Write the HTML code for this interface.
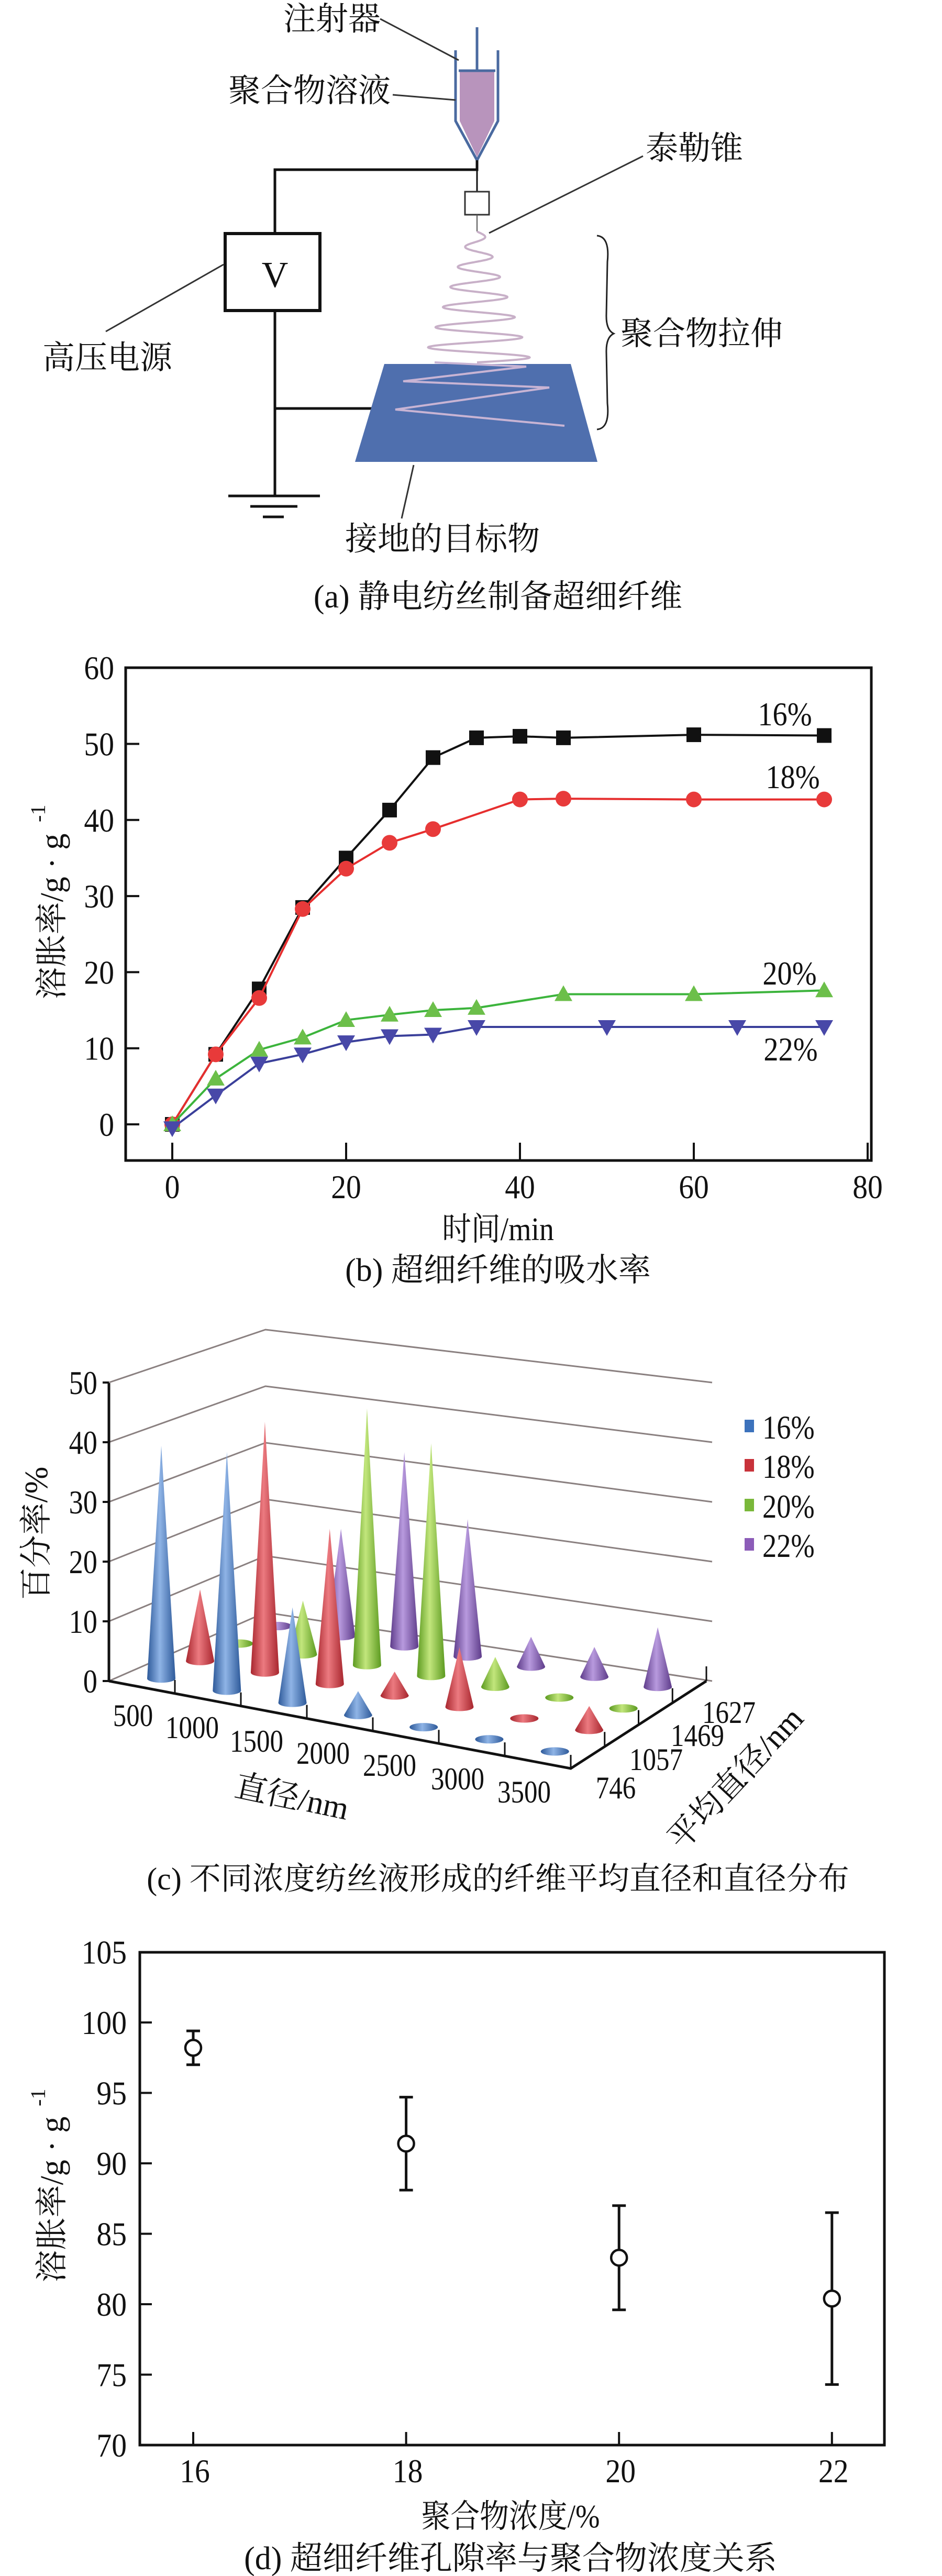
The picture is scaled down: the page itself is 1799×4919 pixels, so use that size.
<!DOCTYPE html>
<html><head><meta charset="utf-8">
<style>
html,body{margin:0;padding:0;background:#fff;}
svg{display:block;}
text{font-family:"Liberation Serif","Noto Serif CJK SC","Noto Sans CJK SC",serif;fill:#111;}
</style></head>
<body>
<svg id="fig" xmlns="http://www.w3.org/2000/svg" width="1799" height="4919" viewBox="0 0 1799 4919">
<rect x="0" y="0" width="1799" height="4919" fill="#fff"/>

<!-- Panel (a) diagram -->
<g id="panelA">
  <line x1="911" y1="52" x2="911" y2="135" stroke="#4a6aa0" stroke-width="5"/>
  <path d="M878,135 L944,135 L944,231 L911,300 L878,231 Z" fill="#b894bc"/>
  <path d="M870,96 L870,231 L911,306 L951,231 L951,96" fill="none" stroke="#4a6aa0" stroke-width="5"/>
  <line x1="876" y1="135" x2="946" y2="135" stroke="#4a6aa0" stroke-width="5"/>
  <polyline points="911,306 911,324 525,324 525,446" fill="none" stroke="#111" stroke-width="5"/>
  <line x1="911" y1="324" x2="911" y2="366" stroke="#111" stroke-width="3"/>
  <rect x="888" y="366" width="46" height="44" fill="#fff" stroke="#333" stroke-width="3"/>
  <line x1="911" y1="410" x2="911" y2="442" stroke="#555" stroke-width="2"/>
  <rect x="430" y="446" width="181" height="147" fill="#fff" stroke="#111" stroke-width="6"/>
  <text x="525" y="548" font-size="70" text-anchor="middle">V</text>
  <polyline points="525,593 525,947" fill="none" stroke="#111" stroke-width="5"/>
  <line x1="525" y1="780" x2="712" y2="780" stroke="#111" stroke-width="5"/>
  <line x1="436" y1="947" x2="611" y2="947" stroke="#111" stroke-width="5"/>
  <line x1="478" y1="967" x2="568" y2="967" stroke="#111" stroke-width="5"/>
  <line x1="502" y1="987" x2="542" y2="987" stroke="#111" stroke-width="5"/>
  <polygon points="734,695 1090,695 1141,882 678,882" fill="#4f6fae"/>
  <path id="spiral" d="" fill="none" stroke="#c8b0c8" stroke-width="4"/>
  <polyline points="830,692 1005,700 770,728 1049,740 755,782 1078,813" fill="none" stroke="#c8b4d4" stroke-width="4"/>
  <path d="M1140,450 Q1165,452 1160,500 L1158,600 Q1157,630 1172,637 Q1157,644 1158,674 L1160,770 Q1165,818 1140,820" fill="none" stroke="#222" stroke-width="3"/>
  <line x1="726" y1="36" x2="876" y2="115" stroke="#333" stroke-width="3"/>
  <line x1="750" y1="181" x2="870" y2="191" stroke="#333" stroke-width="3"/>
  <line x1="934" y1="445" x2="1228" y2="298" stroke="#333" stroke-width="3"/>
  <line x1="202" y1="633" x2="427" y2="505" stroke="#333" stroke-width="3"/>
  <line x1="790" y1="888" x2="767" y2="990" stroke="#333" stroke-width="3"/>
  <text x="634" y="57" font-size="62" text-anchor="middle">注射器</text>
  <text x="591" y="194" font-size="62" text-anchor="middle">聚合物溶液</text>
  <text x="1326" y="304" font-size="62" text-anchor="middle">泰勒锥</text>
  <text x="205" y="704" font-size="62" text-anchor="middle">高压电源</text>
  <text x="1340" y="658" font-size="62" text-anchor="middle">聚合物拉伸</text>
  <text x="845" y="1050" font-size="62" text-anchor="middle">接地的目标物</text>
  <text x="951" y="1160" font-size="62" text-anchor="middle">(a) 静电纺丝制备超细纤维</text>
</g>

<g id="panelB"></g>
<g id="panelC"></g>
<g id="panelD"></g>
</svg>

<script>
// ---------- Chart (b) data ----------
const bTimes16 = [0,5,10,15,20,25,30,35,40,45,60,75];
const bVals16  = [0,9.2,17.8,28.5,35,41.3,48.2,50.8,51,50.8,51.2,51.1];
const bTimes18 = [0,5,10,15,20,25,30,40,45,60,75];
const bVals18  = [0,9.2,16.6,28.3,33.6,37,38.8,42.7,42.8,42.7,42.7];
const bTimes20 = [0,5,10,15,20,25,30,35,45,60,75];
const bVals20  = [0,6,9.8,11.4,13.7,14.4,15,15.3,17.1,17.1,17.6];
const bTimes22 = [0,5,10,15,20,25,30,35,50,65,75];
const bVals22  = [-0.5,3.8,8,9.2,10.8,11.6,11.8,12.8,12.8,12.8,12.8];
const bXTicks = [0,20,40,60,80];
const bYTicks = [0,10,20,30,40,50,60];
const bSeriesLabels = ["16%","18%","20%","22%"];

// ---------- Chart (c) data ----------
const cDiameters = ["500","1000","1500","2000","2500","3000","3500"];
const cMeanDiam = ["746","1057","1469","1627"];
const cSeries = ["16%","18%","20%","22%"];
const cVals16 = [39,40,16,4,0.5,0.5,0.5];
const cVals18 = [12,42,26,4,10,0.5,4];
const cVals20 = [0.5,9,43,39,5,0.5,0.5];
const cVals22 = [0.5,18,32.5,23,5,5,10];
const cYTicks = [0,10,20,30,40,50];

// ---------- Chart (d) data ----------
const dConc = [16,18,20,22];
const dMean = [98.2,91.4,83.3,80.4];
const dLow  = [97.0,88.1,79.6,74.3];
const dHigh = [99.4,94.7,87.0,86.5];
const dXTicks = [16,18,20,22];
const dYTicks = [70,75,80,85,90,95,100,105];

const NS = "http://www.w3.org/2000/svg";
function mk(parent, tag, attrs){
  const e = document.createElementNS(NS, tag);
  for (const k in attrs) e.setAttribute(k, attrs[k]);
  parent.appendChild(e);
  return e;
}
function txt(parent, x, y, s, size, anchor, sx){
  const e = mk(parent, "text", {"font-size":size, "text-anchor":anchor||"middle",
    transform:"translate("+x+","+y+") scale("+(sx||1)+",1)"});
  e.textContent = s;
  return e;
}

// spiral decoration
(function(){
  let d = "";
  for (let k=0;k<=400;k++){
    const t=k/400, y=442+250*t, A=12+92*t;
    const x=911+A*Math.sin(2*Math.PI*6.5*t);
    d += (k?"L":"M")+x.toFixed(1)+","+y.toFixed(1);
  }
  document.getElementById("spiral").setAttribute("d", d);
})();

// ================= Chart (b) =================
(function(){
  const g = document.getElementById("panelB");
  const X0=329, XS=16.6, Y0=2147, YS=14.53;
  const xb = t => X0 + t*XS;
  const yb = v => Y0 - v*YS;
  let el;
  el = mk(g,"rect",{x:240,y:1275,width:1424,height:941,fill:"none",stroke:"#111","stroke-width":5});
  
  
  bYTicks.forEach(v=>{
    el = mk(g,"line",{x1:240,x2:266,y1:yb(v),y2:yb(v),stroke:"#111","stroke-width":4});
    
    
    el = txt(g, 218, yb(v)+22, String(v), 64, "end", 0.9);
    
    
  });
  bXTicks.forEach(t=>{
    el = mk(g,"line",{x1:xb(t),x2:xb(t),y1:2216,y2:2182,stroke:"#111","stroke-width":4});
    
    
    el = txt(g, xb(t), 2288, String(t), 64, "middle", 0.9);
    
    
  });
  el = txt(g, 951, 2368, "时间/min", 62, "middle", 0.9);
  
  
  el = mk(g,"text",{"font-size":62,"text-anchor":"middle",transform:"translate(120,1750) rotate(-90)"});
  el.textContent = "溶胀率/g · g";
  
  
  el = mk(g,"text",{"font-size":40,transform:"translate(86,1570) rotate(-90)"});
  el.textContent = "-1";
  
  
  el = txt(g, 951, 2446, "(b) 超细纤维的吸水率", 62, "middle", 1);
  
  

  const series = [
    {t:bTimes16, v:bVals16, line:"#111", fill:"#111", m:"square"},
    {t:bTimes18, v:bVals18, line:"#e62e2e", fill:"#e83a3a", m:"circle"},
    {t:bTimes20, v:bVals20, line:"#3cb43c", fill:"#6cbf4a", m:"tri-up"},
    {t:bTimes22, v:bVals22, line:"#3a3f9a", fill:"#4848a8", m:"tri-down"}
  ];
  series.forEach((s,si)=>{
    const pts = s.t.map((t,i)=>xb(t).toFixed(1)+","+yb(s.v[i]).toFixed(1)).join(" ");
    el = mk(g,"polyline",{points:pts,fill:"none",stroke:s.line,"stroke-width":4});
    
    
    s.t.forEach((t,i)=>{
      const x=xb(t), y=yb(s.v[i]);
      if (s.m==="square") el = mk(g,"rect",{x:x-14,y:y-14,width:28,height:28,fill:s.fill});
      else if (s.m==="circle") el = mk(g,"circle",{cx:x,cy:y,r:15,fill:s.fill});
      else if (s.m==="tri-up") el = mk(g,"polygon",{points:`${x-17},${y+13} ${x+17},${y+13} ${x},${y-17}`,fill:s.fill});
      else el = mk(g,"polygon",{points:`${x-17},${y-13} ${x+17},${y-13} ${x},${y+17}`,fill:s.fill});
      
      
    });
  });
  const lab = [[1499,1385],[1514,1505],[1508,1880],[1510,2025]];
  bSeriesLabels.forEach((s,i)=>{
    el = txt(g, lab[i][0], lab[i][1], s, 64, "middle", 0.88);
    
    
  });
})();

// ================= Chart (c) =================
(function(){
  const g = document.getElementById("panelC");
  const A=[208,3210], B=[1090,3377], C=[1349,3210], D=[507,3079];
  const HS = 11.4;
  function P(u,v){
    const f=[A[0]+u*(B[0]-A[0]), A[1]+u*(B[1]-A[1])];
    const b=[D[0]+u*(C[0]-D[0]), D[1]+u*(C[1]-D[1])];
    return [f[0]+v*(b[0]-f[0]), f[1]+v*(b[1]-f[1])];
  }
  let el;
  const defs = mk(g,"defs",{});
  const cols = [["#2e5a9a","#8fb4e6"],["#a8262e","#ec7a80"],["#5c9a20","#c2e67c"],["#5e3c8a","#b89ade"]];
  cols.forEach((c,i)=>{
    const lg = mk(defs,"linearGradient",{id:"cg"+i,x1:"0",x2:"1",y1:"0",y2:"0"});
    mk(lg,"stop",{offset:"0","stop-color":c[0]});
    mk(lg,"stop",{offset:"0.45","stop-color":c[1]});
    mk(lg,"stop",{offset:"1","stop-color":c[0]});
  });
  cYTicks.forEach(v=>{
    const pts = `208,${3210-v*HS} 507,${3079-v*10.8} 1360,${3210-v*HS}`;
    el = mk(g,"polyline",{points:pts,fill:"none",stroke:"#8a8080","stroke-width":3});
    
    
  });
  el = mk(g,"line",{x1:208,y1:3210,x2:208,y2:2641,stroke:"#111","stroke-width":5});
  
  
  cYTicks.forEach(v=>{
    el = mk(g,"line",{x1:196,x2:208,y1:3210-v*HS,y2:3210-v*HS,stroke:"#111","stroke-width":4});
    
    
    el = txt(g, 186, 3210-v*HS+22, String(v), 64, "end", 0.85);
    
    
  });
  const all = [cVals16,cVals18,cVals20,cVals22];
  for (let j=3;j>=0;j--){
    for (let i=0;i<cDiameters.length;i++){
      const val = all[j][i];
      const p = P((i+0.5)/7,(j+0.5)/4);
      const rx=27, ry=8;
      if (val < 1){
        el = mk(g,"ellipse",{cx:p[0],cy:p[1],rx:rx,ry:ry,fill:"url(#cg"+j+")"});
      } else {
        const tip = p[1]-val*HS;
        el = mk(g,"path",{d:`M${p[0]-rx},${p[1]} L${p[0]},${tip} L${p[0]+rx},${p[1]} A${rx},${ry} 0 0 1 ${p[0]-rx},${p[1]} Z`,fill:"url(#cg"+j+")"});
      }
      
      
    }
  }
  el = mk(g,"polyline",{points:`${A[0]},${A[1]} ${B[0]},${B[1]} ${C[0]},${C[1]}`,fill:"none",stroke:"#111","stroke-width":5});
  
  
  for (let k=1;k<=7;k++){
    const p = P(k/7,0);
    el = mk(g,"line",{x1:p[0],y1:p[1],x2:p[0],y2:p[1]-26,stroke:"#111","stroke-width":3});
    
    
  }
  for (let k=1;k<=4;k++){
    const p = P(1,k/4);
    el = mk(g,"line",{x1:p[0],y1:p[1],x2:p[0],y2:p[1]-28,stroke:"#111","stroke-width":3});
    
    
  }
  const fl = [[254,3296],[367,3319],[490,3345],[617,3368],[744,3391],[874,3417],[1001,3442]];
  cDiameters.forEach((s,i)=>{
    el = txt(g, fl[i][0], fl[i][1], s, 60, "middle", 0.85);
    
    
  });
  const dl = [[1176,3434],[1253,3380],[1332,3334],[1392,3290]];
  cMeanDiam.forEach((s,i)=>{
    el = txt(g, dl[i][0], dl[i][1], s, 60, "middle", 0.85);
    
    
  });
  el = mk(g,"text",{"font-size":62,"text-anchor":"middle",transform:"translate(553,3452) rotate(12)"});
  el.textContent = "直径/nm";
  
  
  el = mk(g,"text",{"font-size":62,"text-anchor":"middle",transform:"translate(1420,3410) rotate(-47)"});
  el.textContent = "平均直径/nm";
  
  
  el = mk(g,"text",{"font-size":62,"text-anchor":"middle",transform:"translate(90,2928) rotate(-90)"});
  el.textContent = "百分率/%";
  
  
  const lc = ["#3c72bc","#c8323a","#7ab83a","#8c5cb8"];
  const ly = [2725,2800,2876,2951];
  cSeries.forEach((s,i)=>{
    el = mk(g,"rect",{x:1422,y:ly[i]-14,width:18,height:24,fill:lc[i]});
    
    
    el = txt(g, 1456, ly[i]+22, s, 64, "start", 0.85);
    
    
  });
  el = txt(g, 951, 3608, "(c) 不同浓度纺丝液形成的纤维平均直径和直径分布", 60, "middle", 1);
  
  
})();

// ================= Chart (d) =================
(function(){
  const g = document.getElementById("panelD");
  const xd = c => 369 + (c-16)*203.3;
  const yd = v => 4669 - (v-70)*26.9;
  let el;
  el = mk(g,"rect",{x:267,y:3728,width:1422,height:941,fill:"none",stroke:"#111","stroke-width":5});
  
  
  dYTicks.forEach(v=>{
    el = mk(g,"line",{x1:267,x2:290,y1:yd(v),y2:yd(v),stroke:"#111","stroke-width":4});
    
    
    el = txt(g, 242, yd(v)+22, String(v), 64, "end", 0.9);
    
    
  });
  dXTicks.forEach(c=>{
    el = mk(g,"line",{x1:xd(c),x2:xd(c),y1:4669,y2:4644,stroke:"#111","stroke-width":4});
    
    
    el = txt(g, xd(c)+3, 4740, String(c), 64, "middle", 0.9);
    
    
  });
  dConc.forEach((c,i)=>{
    const x = xd(c);
    el = mk(g,"line",{x1:x,x2:x,y1:yd(dLow[i]),y2:yd(dHigh[i]),stroke:"#111","stroke-width":5});
    
    
    el = mk(g,"line",{x1:x-13,x2:x+13,y1:yd(dHigh[i]),y2:yd(dHigh[i]),stroke:"#111","stroke-width":5});
    
    
    el = mk(g,"line",{x1:x-13,x2:x+13,y1:yd(dLow[i]),y2:yd(dLow[i]),stroke:"#111","stroke-width":5});
    
    
    el = mk(g,"circle",{cx:x,cy:yd(dMean[i]),r:15,fill:"#fff",stroke:"#111","stroke-width":4.5});
    
    
  });
  el = txt(g, 975, 4826, "聚合物浓度/%", 62, "middle", 0.9);
  
  
  el = mk(g,"text",{"font-size":62,"text-anchor":"middle",transform:"translate(120,4200) rotate(-90)"});
  el.textContent = "溶胀率/g · g";
  
  
  el = mk(g,"text",{"font-size":40,transform:"translate(86,4022) rotate(-90)"});
  el.textContent = "-1";
  
  
  el = txt(g, 975, 4906, "(d) 超细纤维孔隙率与聚合物浓度关系", 62, "middle", 1);
  
  
})();
</script>
</body></html>
